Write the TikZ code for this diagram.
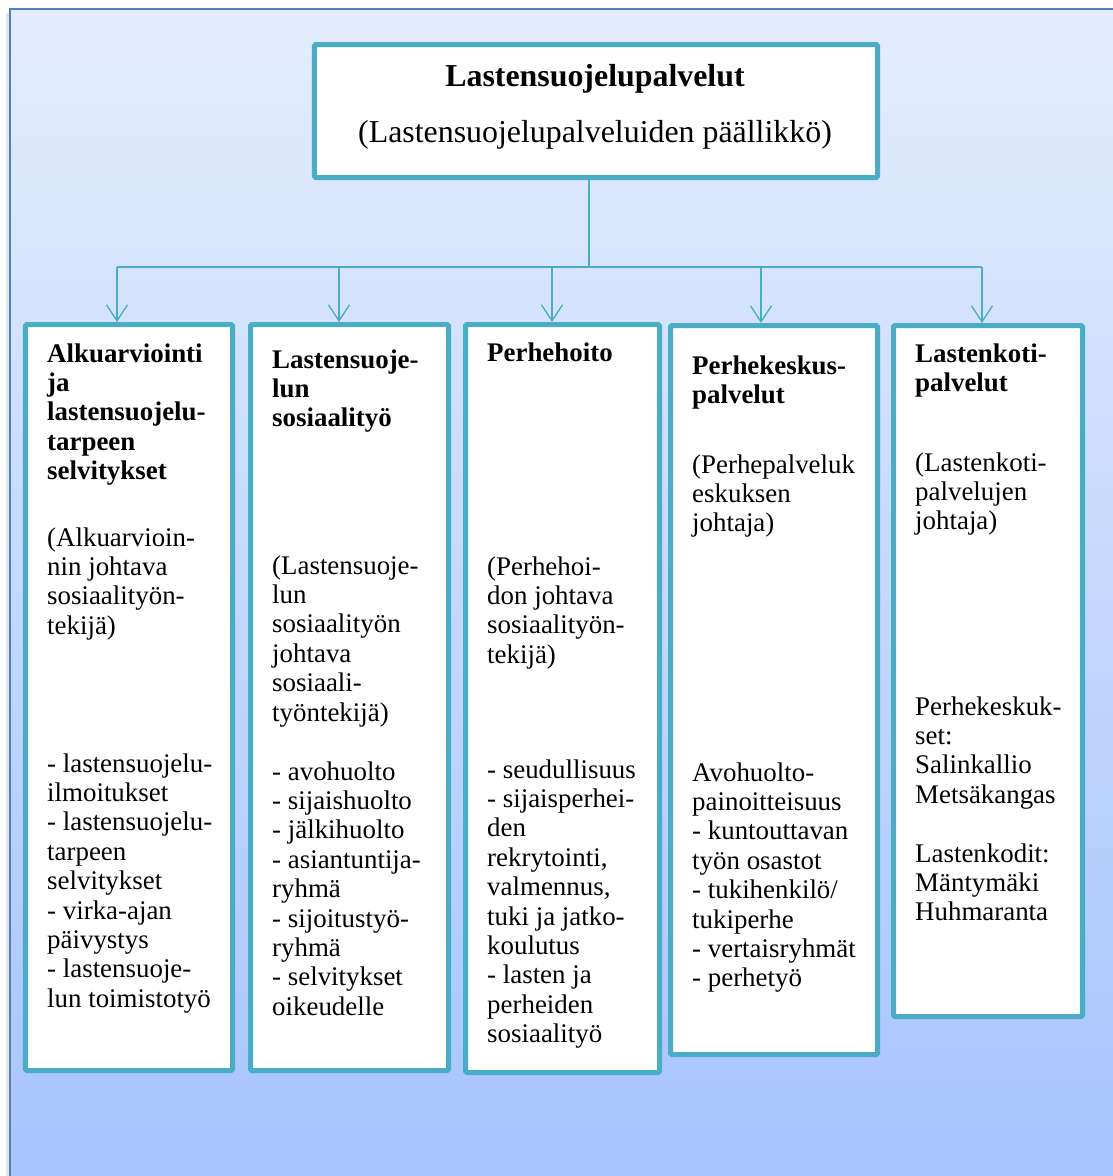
\documentclass[tikz,border=0pt]{standalone}
\usepackage{fontspec}
\setmainfont{Liberation Serif}
\usetikzlibrary{arrows.meta}
\definecolor{tealline}{HTML}{4BACC6}
\definecolor{frameblue}{HTML}{4F81BD}
\definecolor{bgtop}{HTML}{E4EDFD}
\definecolor{bgbot}{HTML}{A6C4FD}
\begin{document}
\begin{tikzpicture}[x=1bp,y=-1bp,
  unit/.style={draw=tealline, line width=5bp, fill=white, rounded corners=1.5bp, inner sep=0pt},
  txt/.style={anchor=north west, yshift=20.65bp, align=left, inner sep=0pt, font=\fontsize{27}{29.5}\selectfont},
  ttl/.style={txt, font=\fontsize{27}{29.5}\selectfont\bfseries},
  link/.style={draw=tealline, line width=1.3bp},
  arr/.style={link, -{Straight Barb[length=16bp, width=21bp]}}
]
\fill[white] (0,0) rectangle (1113,1176);
\useasboundingbox (0,0) rectangle (1113,1176);
\fill[black!10] (6,13) rectangle (10,1176);
\shade[top color=bgtop, bottom color=bgbot] (10,9) rectangle (1113,1176);
\draw[frameblue, line width=1.5bp] (10,1176) -- (10,9) -- (1113,9);

% top box
\node[unit, minimum width=563bp, minimum height=133bp] (top) at (596,111) {};
\node[anchor=base, inner sep=0pt, font=\fontsize{32}{36}\selectfont\bfseries] (topttl) at (595,86) {Lastensuojelupalvelut};
\node[anchor=base, inner sep=0pt, font=\fontsize{32}{36}\selectfont] (toprole) at (595,142) {(Lastensuojelupalveluiden päällikkö)};

% unit boxes
\node[unit, minimum width=207bp, minimum height=746bp] (b1) at (129,697.5) {};
\node[unit, minimum width=198bp, minimum height=746bp] (b2) at (349.5,697.5) {};
\node[unit, minimum width=194bp, minimum height=748bp] (b3) at (562.5,698.5) {};
\node[unit, minimum width=207bp, minimum height=729bp] (b4) at (774,690) {};
\node[unit, minimum width=189bp, minimum height=691bp] (b5) at (988,671) {};

% connectors
\coordinate (bus) at (589,267);
\coordinate (a1) at (117,267);
\coordinate (a2) at (339,267);
\coordinate (a3) at (552,267);
\coordinate (a4) at (761,267);
\coordinate (a5) at (982,267);
\draw[link] (top.south -| bus) -- (bus);
\draw[link] (a1) -- (a5);
\draw[arr] (a1) -- (b1.north -| a1);
\draw[arr] (a2) -- (b2.north -| a2);
\draw[arr] (a3) -- (b3.north -| a3);
\draw[arr] (a4) -- (b4.north -| a4);
\draw[arr] (a5) -- (b5.north -| a5);

% box 1
\node[ttl] (b1t) at (47,362) {\strut Alkuarviointi\\ja\\lastensuojelu-\\tarpeen\\selvitykset};
\node[txt] (b1r) at (47,546) {\strut (Alkuarvioin-\\nin johtava\\sosiaalityön-\\tekijä)};
\node[txt] (b1l) at (47,772) {\strut - lastensuojelu-\\ilmoitukset\\- lastensuojelu-\\tarpeen\\selvitykset\\- virka-ajan\\päivystys\\- lastensuoje-\\lun toimistotyö};

% box 2
\node[ttl] (b2t) at (272,368) {\strut Lastensuoje-\\lun\\sosiaalityö};
\node[txt] (b2r) at (272,574) {\strut (Lastensuoje-\\lun\\sosiaalityön\\johtava\\sosiaali-\\työntekijä)};
\node[txt] (b2l) at (272,780) {\strut - avohuolto\\- sijaishuolto\\- jälkihuolto\\- asiantuntija-\\ryhmä\\- sijoitustyö-\\ryhmä\\- selvitykset\\oikeudelle};

% box 3
\node[ttl] (b3t) at (487,361) {\strut Perhehoito};
\node[txt] (b3r) at (487,575) {\strut (Perhehoi-\\don johtava\\sosiaalityön-\\tekijä)};
\node[txt] (b3l) at (487,778) {\strut - seudullisuus\\- sijaisperhei-\\den\\rekrytointi,\\valmennus,\\tuki ja jatko-\\koulutus\\- lasten ja\\perheiden\\sosiaalityö};

% box 4
\node[ttl] (b4t) at (692,374) {\strut Perhekeskus-\\palvelut};
\node[txt] (b4r) at (692,473) {\strut (Perhepalveluk\\eskuksen\\johtaja)};
\node[txt] (b4l) at (692,781) {\strut Avohuolto-\\painoitteisuus\\- kuntouttavan\\työn osastot\\- tukihenkilö/\\tukiperhe\\- vertaisryhmät\\- perhetyö};

% box 5
\node[ttl] (b5t) at (915,362) {\strut Lastenkoti-\\palvelut};
\node[txt] (b5r) at (915,471) {\strut (Lastenkoti-\\palvelujen\\johtaja)};
\node[txt] (b5l) at (915,715) {\strut Perhekeskuk-\\set:\\Salinkallio\\Metsäkangas\\[29.5bp]Lastenkodit:\\Mäntymäki\\Huhmaranta};
\end{tikzpicture}
\end{document}
